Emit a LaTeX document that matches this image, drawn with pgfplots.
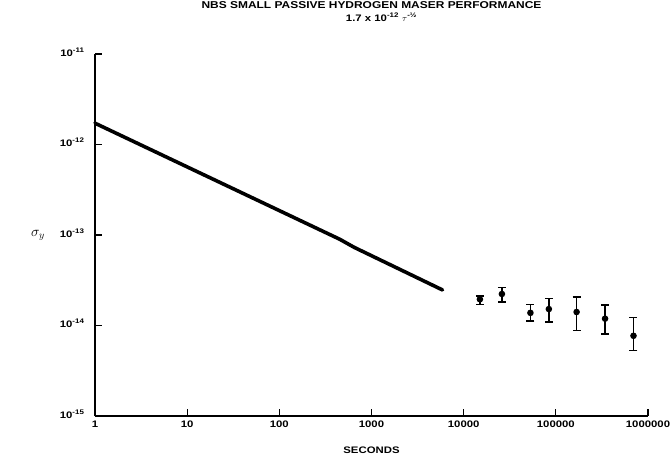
\documentclass[border=0pt]{standalone}
\usepackage{fontspec}
\setmainfont{Liberation Sans}[FakeStretch=1.2]
\usepackage{pgfplots}
\pgfplotsset{compat=1.18}
\usepackage{pgfplotstable}

% measured points with upper / lower error
\pgfplotstableread{
x       y        ep       em
15000   1.95e-14 0.18e-14 0.24e-14
26000   2.23e-14 0.39e-14 0.40e-14
53000   1.38e-14 0.33e-14 0.26e-14
84000   1.52e-14 0.46e-14 0.42e-14
168000  1.41e-14 0.66e-14 0.525e-14
342000  1.19e-14 0.50e-14 0.39e-14
696000  7.7e-15  0.45e-14 0.243e-14
}\measured

\begin{document}
\begin{tikzpicture}[font=\bfseries\fontsize{9.5}{11}\selectfont]
\path[use as bounding box] (-95bp,-44bp) rectangle (577bp,416bp);
\begin{axis}[
    at={(0,0)}, anchor=south west,
    scale only axis,
    width=553bp, height=362bp,
    xmode=log, ymode=log,
    xmin=1, xmax=1000000,
    ymin=1e-15, ymax=1e-11,
    axis lines*=left,
    axis line style={line width=1.1bp},
    tick style={line width=1.1bp, black},
    major tick length=7bp,
    xminorticks=false, yminorticks=false,
    xtick={1,10,100,1000,10000,100000,1000000},
    xticklabels={1,10,100,1000,10000,100000,1000000},
    ytick={1e-15,1e-14,1e-13,1e-12,1e-11},
    yticklabels={10\textsuperscript{-15},10\textsuperscript{-14},10\textsuperscript{-13},10\textsuperscript{-12},10\textsuperscript{-11}},
    yticklabel style={xshift=-7bp, yshift=2bp},
    xticklabel style={yshift=-1bp},
    clip=false,
]
\addplot[black, line width=3.6bp, line join=round, line cap=round] coordinates {
    (1,1.72e-12) (450,9.0e-14) (650,7.3e-14) (5900,2.47e-14)
};
\addplot[black, only marks, mark=*, mark size=2.6bp, line width=1.3bp,
    error bars/.cd, y dir=both, y explicit,
    error bar style={line width=1.6bp},
    error mark options={rotate=90, mark size=4bp, line width=1.6bp}]
    table[x=x, y=y, y error plus=ep, y error minus=em] {\measured};
\end{axis}
\node[font=\bfseries\fontsize{10}{12}\selectfont] at ([yshift=49bp]current axis.north) {NBS SMALL PASSIVE HYDROGEN MASER PERFORMANCE};
\node at ([xshift=10bp,yshift=37bp]current axis.north) {1.7 x 10\textsuperscript{-12} $\tau$\textsuperscript{-\textonehalf}};
\node[font=\fontsize{14}{16}\selectfont] at ([xshift=-57bp]current axis.west) {$\sigma_y$};
\node at ([yshift=-34bp]current axis.south) {SECONDS};
\end{tikzpicture}
\end{document}
